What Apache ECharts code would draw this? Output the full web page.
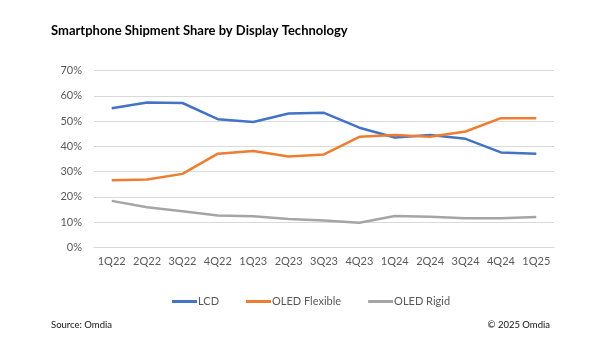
<!DOCTYPE html>
<html><head><meta charset="utf-8">
<script src="https://cdn.jsdelivr.net/npm/echarts@6/dist/echarts.min.js"></script>
<style>html,body{margin:0;padding:0;background:#fff}#c{width:600px;height:343px}</style>
</head><body><div id="c"></div>
<script>
const categories = ['1Q22','2Q22','3Q22','4Q22','1Q23','2Q23','3Q23','4Q23','1Q24','2Q24','3Q24','4Q24','1Q25'];
const lcd = [55.1, 57.4, 57.2, 50.8, 49.7, 53.0, 53.3, 47.4, 43.5, 44.5, 43.0, 37.6, 37.1];
const oledFlexible = [26.6, 26.9, 29.1, 37.1, 38.2, 36.0, 36.8, 43.8, 44.5, 43.8, 45.9, 51.2, 51.2];
const oledRigid = [18.4, 15.9, 14.3, 12.6, 12.3, 11.2, 10.6, 9.7, 12.4, 12.1, 11.5, 11.5, 12.0];
const yTicks = [0, 10, 20, 30, 40, 50, 60, 70];

const chart = echarts.init(document.getElementById('c'), null, {renderer: 'canvas'});
const FONT = 'Lato';
chart.setOption({
  animation: false,
  textStyle: {fontFamily: FONT},
  title: [
    {text: 'Smartphone Shipment Share by Display Technology', left: 46, top: 19,
     textStyle: {fontFamily: FONT, fontWeight: 'bold', fontSize: 13, color: '#000'}},
    {text: 'Source: Omdia', left: 46, top: 315,
     textStyle: {fontFamily: FONT, fontWeight: 'normal', fontSize: 9.5, color: '#111'}},
    {text: '© 2025 Omdia', right: 45, top: 315,
     textStyle: {fontFamily: FONT, fontWeight: 'normal', fontSize: 9.5, color: '#111'}}
  ],
  legend: {
    top: 291, left: 167, itemGap: 27, itemWidth: 25, itemHeight: 3, icon: 'rect',
    textStyle: {fontFamily: FONT, fontSize: 11, color: '#595959', padding: [0, 0, 0, -4]},
    data: ['LCD', 'OLED Flexible', 'OLED Rigid']
  },
  grid: {left: 94, right: 46, top: 70.7, bottom: 95.7, containLabel: false},
  xAxis: {
    type: 'category', data: categories, boundaryGap: true,
    axisLine: {lineStyle: {color: '#D9D9D9'}},
    axisTick: {show: false},
    axisLabel: {color: '#595959', fontSize: 11, margin: 9, fontFamily: FONT, interval: 0}
  },
  yAxis: {
    type: 'value', min: 0, max: 70, interval: 10,
    axisLabel: {color: '#595959', fontSize: 11, margin: 12, fontFamily: FONT,
      formatter: v => yTicks.includes(v) ? v + '%' : ''},
    splitLine: {lineStyle: {color: '#D9D9D9', width: 1}},
    axisLine: {show: false}, axisTick: {show: false}
  },
  series: [
    {name: 'LCD', type: 'line', data: lcd, symbol: 'none', color: '#4472C4', lineStyle: {width: 2.5, color: '#4472C4'}},
    {name: 'OLED Flexible', type: 'line', data: oledFlexible, symbol: 'none', color: '#ED7D31', lineStyle: {width: 2.5, color: '#ED7D31'}},
    {name: 'OLED Rigid', type: 'line', data: oledRigid, symbol: 'none', color: '#A5A5A5', lineStyle: {width: 2.5, color: '#A5A5A5'}}
  ]
});
</script></body></html>
